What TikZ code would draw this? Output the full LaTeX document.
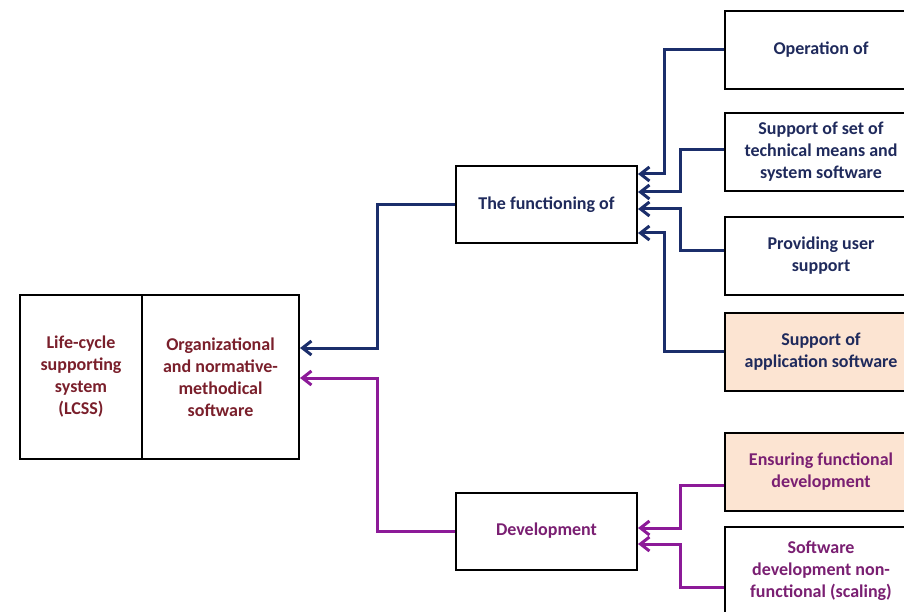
\documentclass[tikz,border=0pt]{standalone}
\usepackage{fontspec}
\setmainfont{Carlito}
\usetikzlibrary{arrows.meta,calc}
\definecolor{navyl}{HTML}{1B2E6B}
\definecolor{navyt}{HTML}{1F2A5C}
\definecolor{redt}{HTML}{7A1F2B}
\definecolor{purl}{HTML}{8C1A98}
\definecolor{purt}{HTML}{7A1F72}
\definecolor{peach}{HTML}{FCE4D2}
\begin{document}
\begin{tikzpicture}[x=1pt,y=-1pt,
  box/.style={draw=black,line width=2pt,inner sep=0pt,align=center,
    font=\fontsize{18}{22}\selectfont\bfseries},
  rbox/.style={box,minimum width=192pt,minimum height=78pt,text=navyt},
  mbox/.style={box,minimum width=181pt,minimum height=77pt},
  conn/.style={line width=3pt,-{Straight Barb[length=9pt,width=14pt]}},
  nconn/.style={conn,draw=navyl},
  pconn/.style={conn,draw=purl}]
\clip (0,0) rectangle (904,612);
\fill[white] (0,0) rectangle (904,612);
% left boxes
\node[box,minimum width=122pt,minimum height=164pt,text=redt] (lc) at (81,377) {Life-cycle\\supporting\\system\\(LCSS)};
\node[box,minimum width=157pt,minimum height=164pt,text=redt] (org) at (220.5,377) {Organizational\\and normative-\\methodical\\software};
% middle boxes
\node[mbox,text=navyt] (fun) at (546.5,204.5) {The functioning of};
\node[mbox,text=purt] (dev) at (546.5,531) {Development};
% right boxes
\node[rbox] (op) at (821,50) {Operation of};
\node[rbox] (ss) at (821,152) {Support of set of\\technical means and\\system software};
\node[rbox] (pu) at (821,256) {Providing user\\support};
\node[rbox,fill=peach] (ap) at (821,351.5) {Support of\\application software};
\node[rbox,fill=peach,text=purt] (ef) at (821,471.5) {Ensuring functional\\development};
\node[rbox,minimum height=88pt,text=purt] (sd) at (821,570.5) {Software\\development non-\\functional (scaling)};
% connectors
\draw[nconn] (op.west) -- ++(-60,0) |- ($(fun.east)+(0,-30.5)$);
\draw[nconn] ($(ss.west)+(0,-2)$) -- ++(-44,0) |- ($(fun.east)+(0,-12.5)$);
\draw[nconn] ($(pu.west)+(0,-5)$) -- ++(-44,0) |- ($(fun.east)+(0,4.5)$);
\draw[nconn] (ap.west) -- ++(-60,0) |- ($(fun.east)+(0,28.5)$);
\draw[nconn] (fun.west) -- ++(-78,0) |- ($(org.east)+(0,-29)$);
\draw[pconn] (dev.west) -- ++(-78,0) |- ($(org.east)+(0,1)$);
\draw[pconn] ($(ef.west)+(0,13.5)$) -- ++(-44,0) |- ($(dev.east)+(0,-3)$);
\draw[pconn] ($(sd.west)+(0,16.5)$) -- ++(-44,0) |- ($(dev.east)+(0,13)$);
\end{tikzpicture}
\end{document}
